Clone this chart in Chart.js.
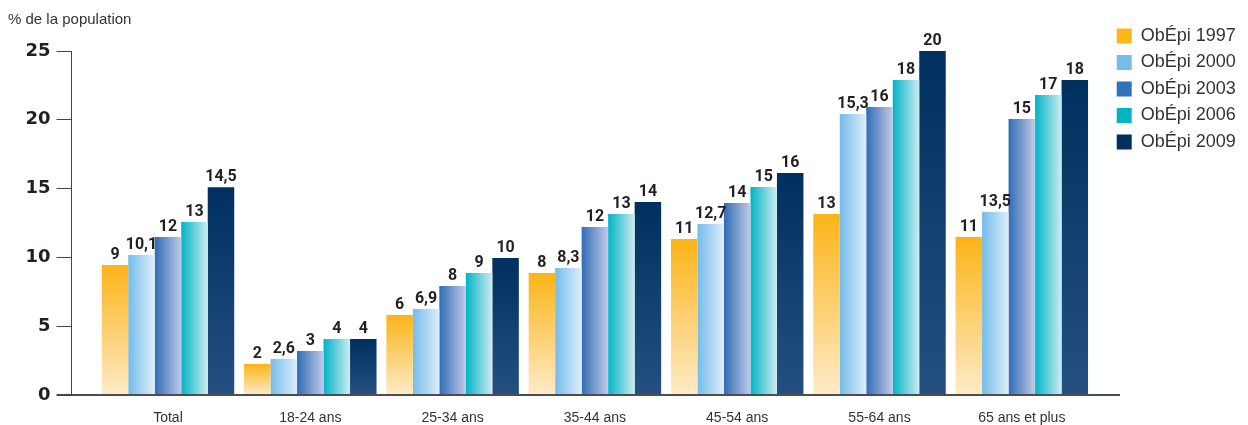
<!DOCTYPE html>
<html>
<head>
<meta charset="utf-8">
<script src="https://cdn.jsdelivr.net/npm/chart.js@4.4.1/dist/chart.umd.min.js"></script>
<style>
  html, body { margin: 0; padding: 0; background: #ffffff; }
  #wrap { position: relative; width: 1248px; height: 425px; }
</style>
</head>
<body>
<div id="wrap"><canvas id="c"></canvas></div>
<script>
// ---- data ----
const CATEGORIES = ['Total', '18-24 ans', '25-34 ans', '35-44 ans', '45-54 ans', '55-64 ans', '65 ans et plus'];
const SERIES_NAMES = ['ObÉpi 1997', 'ObÉpi 2000', 'ObÉpi 2003', 'ObÉpi 2006', 'ObÉpi 2009'];

// bar heights as drawn in the picture
const V1997 = [9.45, 2.25, 5.81, 8.87, 11.34, 13.15, 11.48];
const V2000 = [10.17, 2.62, 6.25, 9.23, 12.43, 20.42, 13.3];
const V2003 = [11.48, 3.2, 7.92, 12.21, 13.95, 20.93, 20.06];
const V2006 = [12.57, 4.07, 8.87, 13.15, 15.12, 22.89, 21.8];
const V2009 = [15.09, 4.07, 9.96, 14.03, 16.13, 25.0, 22.89];

// value labels as printed above the bars
const L1997 = ['9', '2', '6', '8', '11', '13', '11'];
const L2000 = ['10,1', '2,6', '6,9', '8,3', '12,7', '15,3', '13,5'];
const L2003 = ['12', '3', '8', '12', '14', '16', '15'];
const L2006 = ['13', '4', '9', '13', '15', '18', '17'];
const L2009 = ['14,5', '4', '10', '14', '16', '20', '18'];

const Y_TICKS = [0, 5, 10, 15, 20, 25];
const Y_TITLE = '% de la population';

// ---- styles ----
const SERIES_VALUES = [V1997, V2000, V2003, V2006, V2009];
const SERIES_LABELS = [L1997, L2000, L2003, L2006, L2009];
const SOLID = ['#FBB61A', '#74BDE8', '#2F73B9', '#00B5C3', '#002F5E'];
const GRAD = [
  { dir: 'v', a: '#FBB417', b: '#FEEBC8' },
  { dir: 'h', a: '#74BCE9', b: '#DEEEFB' },
  { dir: 'h', a: '#2F6DB5', b: '#C2C9E7' },
  { dir: 'h', a: '#00B4C6', b: '#CDECF0' },
  { dir: 'v', a: '#00305F', b: '#245081' }
];
const CAT_PCT = 0.931;

function barFill(c) {
  const di = c.datasetIndex;
  if (c.type !== 'data' || !c.chart.scales || !c.chart.scales.x || !c.chart.scales.y) return SOLID[di];
  const xs = c.chart.scales.x, ys = c.chart.scales.y;
  const center = xs.getPixelForValue(c.dataIndex);
  const unit = Math.abs(xs.getPixelForValue(1) - xs.getPixelForValue(0));
  const size = unit * CAT_PCT;
  const w = size / SERIES_VALUES.length;
  const left = center - size / 2 + di * w;
  const val = SERIES_VALUES[di][c.dataIndex];
  const top = ys.getPixelForValue(val);
  const bottom = ys.getPixelForValue(0);
  if (!isFinite(left) || !isFinite(top) || !isFinite(bottom)) return SOLID[di];
  const g = GRAD[di];
  const ctx = c.chart.ctx;
  const grad = g.dir === 'v'
    ? ctx.createLinearGradient(0, top, 0, bottom)
    : ctx.createLinearGradient(left, 0, left + w, 0);
  grad.addColorStop(0, g.a);
  grad.addColorStop(1, g.b);
  return grad;
}

const datasets = SERIES_NAMES.map((name, di) => ({
  label: name,
  data: SERIES_VALUES[di].map((v, i) => ({ x: i, y: v })),
  backgroundColor: barFill,
  borderWidth: 0,
  categoryPercentage: CAT_PCT,
  barPercentage: 1
}));

const valueLabelPlugin = {
  id: 'valueLabels',
  afterDatasetsDraw(chart) {
    const ctx = chart.ctx;
    ctx.save();
    ctx.font = 'bold 16px Roboto';
    ctx.fillStyle = '#231F20';
    ctx.textAlign = 'center';
    ctx.textBaseline = 'alphabetic';
    chart.data.datasets.forEach((ds, di) => {
      const meta = chart.getDatasetMeta(di);
      meta.data.forEach((bar, i) => {
        ctx.fillText(SERIES_LABELS[di][i], bar.x, bar.y - 6);
      });
    });
    ctx.restore();
  }
};

const legendPlacePlugin = {
  id: 'legendPlace',
  afterLayout(chart) {
    const lg = chart.legend;
    if (!lg) return;
    const w = lg.width;
    lg.left = 1108.2;
    lg.right = lg.left + w;
    lg.top = 18.5;
    lg.bottom = 395;
    lg.height = lg.bottom - lg.top;
  }
};

Chart.defaults.font.family = "'Liberation Sans', Arial, sans-serif";
Chart.defaults.color = '#333333';

new Chart(document.getElementById('c'), {
  type: 'bar',
  data: { datasets },
  plugins: [valueLabelPlugin, legendPlacePlugin],
  options: {
    responsive: true,
    maintainAspectRatio: false,
    animation: false,
    events: [],
    layout: { padding: { left: 8, right: 0, top: 0, bottom: 0 } },
    plugins: {
      tooltip: { enabled: false },
      title: {
        display: true,
        text: Y_TITLE,
        align: 'start',
        color: '#333333',
        font: { size: 15, weight: 'normal' },
        padding: { top: 11, bottom: 22 }
      },
      legend: {
        display: true,
        position: 'right',
        align: 'start',
        maxWidth: 129,
        labels: {
          boxWidth: 15,
          boxHeight: 15,
          padding: 8.5,
          color: '#333333',
          font: { size: 18 },
          generateLabels() {
            return SERIES_NAMES.map((n, i) => ({
              text: n,
              fillStyle: SOLID[i],
              strokeStyle: SOLID[i],
              lineWidth: 0,
              hidden: false,
              datasetIndex: i,
              fontColor: '#333333'
            }));
          }
        }
      }
    },
    scales: {
      x: {
        type: 'linear',
        min: -0.678,
        max: 6.683,
        offset: false,
        afterFit(scale) { scale.height = 30; },
        grid: { display: false, offset: false },
        border: { display: true, color: '#4D4D4D', width: 2 },
        ticks: {
          stepSize: 1,
          includeBounds: false,
          autoSkip: false,
          maxRotation: 0,
          padding: 6.5,
          color: '#333333',
          font: { size: 14 },
          callback: (v) => (Number.isInteger(v) && CATEGORIES[v] !== undefined) ? CATEGORIES[v] : ''
        }
      },
      y: {
        min: Y_TICKS[0],
        max: Y_TICKS[Y_TICKS.length - 1],
        afterFit(scale) { scale.width = 63.5; },
        afterBuildTicks(scale) { scale.ticks = Y_TICKS.map(v => ({ value: v })); },
        grid: {
          drawOnChartArea: false,
          drawTicks: true,
          tickLength: 15,
          color: '#444444',
          lineWidth: (c) => (c.tick && c.tick.value === 0 ? 2 : 1)
        },
        border: { display: true, color: '#444444', width: 1 },
        ticks: {
          padding: 6,
          color: '#231F20',
          font: { family: "'DejaVu Sans', sans-serif", size: 18, weight: 'bold' }
        }
      }
    }
  }
});
</script>
</body>
</html>
